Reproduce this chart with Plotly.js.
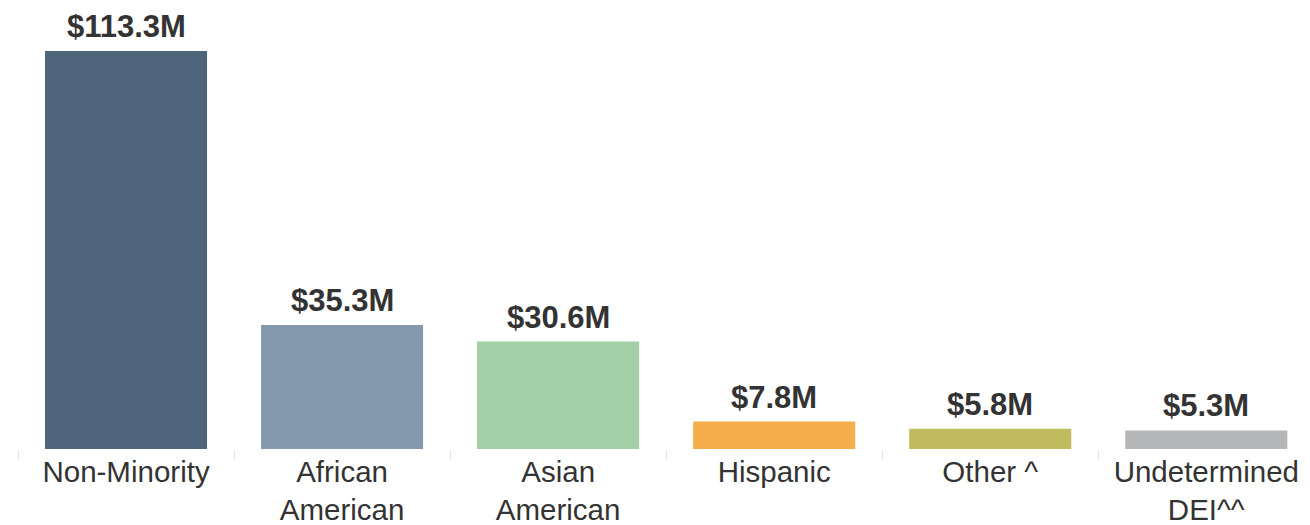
<!DOCTYPE html>
<html>
<head>
<meta charset="utf-8">
<script src="https://cdn.plot.ly/plotly-3.0.1.min.js"></script>
<style>html,body{margin:0;padding:0;background:#fff;}#chart{width:1310px;height:525px;}</style>
</head>
<body>
<div id="chart"></div>
<script>
const categories = ["Non-Minority", "African<br>American", "Asian<br>American", "Hispanic", "Other ^", "Undetermined<br>DEI^^"];
const values = [113.3, 35.3, 30.6, 7.8, 5.8, 5.3];
const valueLabels = ["$113.3M", "$35.3M", "$30.6M", "$7.8M", "$5.8M", "$5.3M"];
const barColors = ["#4e657c", "#8499ae", "#a3cfa6", "#f5ae4b", "#c0bb5f", "#b4b6b7"];

const font = "'Liberation Sans', Arial, sans-serif";

const trace = {
  type: "bar",
  x: categories,
  y: values,
  marker: {color: barColors},
  width: 0.75,
  hoverinfo: "skip"
};

const annotations = categories.map((c, i) => ({
  x: c, y: values[i], xref: "x", yref: "y",
  text: "<b>" + valueLabels[i] + "</b>",
  showarrow: false, yanchor: "bottom", yshift: 5,
  font: {family: font, size: 31, color: "#333333"}
}));

const layout = {
  width: 1310, height: 525,
  margin: {l: 18, r: 0, t: 10, b: 76},
  paper_bgcolor: "#ffffff", plot_bgcolor: "#ffffff",
  showlegend: false,
  xaxis: {
    type: "category",
    range: [-0.5, 5.48],
    tickson: "boundaries",
    ticks: "outside", ticklen: 9, tickcolor: "#e4e4e4", tickwidth: 1,
    ticklabelstandoff: 2,
    showgrid: false, showline: false, zeroline: false,
    tickfont: {family: font, size: 29.5, color: "#333333"}
  },
  yaxis: {
    range: [0, 125],
    visible: false, showgrid: false, zeroline: false
  },
  annotations: annotations
};

Plotly.newPlot("chart", [trace], layout, {displayModeBar: false, staticPlot: true});
</script>
</body>
</html>
